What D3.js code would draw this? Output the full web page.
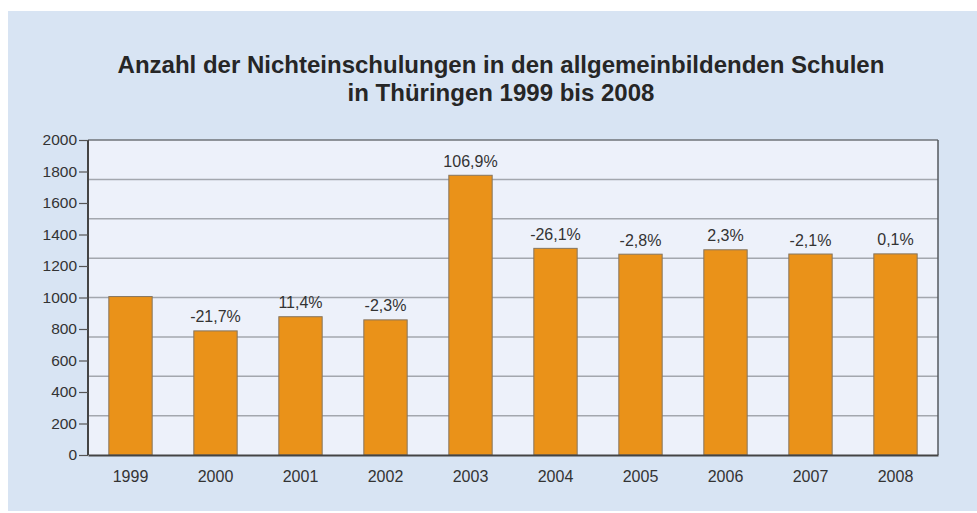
<!DOCTYPE html>
<html><head><meta charset="utf-8">
<script src="https://cdn.jsdelivr.net/npm/d3@7"></script>
<style>body{margin:0;background:#fff}svg{display:block}text{font-family:"Liberation Sans",Arial,sans-serif}</style>
</head><body><svg id="c" width="977" height="513"></svg>
<script>
const years = ["1999","2000","2001","2002","2003","2004","2005","2006","2007","2008"];
const values = [1006, 788, 878, 858, 1776, 1312, 1275, 1303, 1276, 1277];
const changes = ["", "-21,7%", "11,4%", "-2,3%", "106,9%", "-26,1%", "-2,8%", "2,3%", "-2,1%", "0,1%"];
const yTicks = [0,200,400,600,800,1000,1200,1400,1600,1800,2000];
const gridValues = [250,500,750,1000,1250,1500,1750];
const titleLines = ["Anzahl der Nichteinschulungen in den allgemeinbildenden Schulen", "in Thüringen 1999 bis 2008"];

const svg = d3.select("#c");
svg.append("rect").attr("x",8).attr("y",11).attr("width",969).attr("height",500).attr("fill","#d8e4f3");

const m = {l:88, r:938, t:140, b:455};
const x = d3.scaleBand().domain(years).range([m.l, m.r]).paddingInner(0.49).paddingOuter(0.245);
const y = d3.scaleLinear().domain([0,2000]).range([m.b, m.t]);

svg.append("rect").attr("x",m.l).attr("y",m.t).attr("width",m.r-m.l).attr("height",m.b-m.t).attr("fill","#edf1fa");

svg.append("g").selectAll("line").data(gridValues).join("line")
  .attr("x1",m.l).attr("x2",m.r).attr("y1",d=>y(d)).attr("y2",d=>y(d))
  .attr("stroke","#a3a7ae").attr("stroke-width",1.5);

// frame top/right
svg.append("line").attr("x1",m.l).attr("x2",m.r).attr("y1",m.t).attr("y2",m.t).attr("stroke","#6f7378").attr("stroke-width",1.5);
svg.append("line").attr("x1",m.r).attr("x2",m.r).attr("y1",m.t).attr("y2",m.b).attr("stroke","#55595e").attr("stroke-width",1.5);

svg.append("g").selectAll("rect").data(years).join("rect")
  .attr("x",d=>x(d)).attr("width",x.bandwidth())
  .attr("y",(d,i)=>y(values[i])).attr("height",(d,i)=>m.b-y(values[i]))
  .attr("fill","#ea9219").attr("stroke","#857560").attr("stroke-width",1);

svg.append("g").selectAll("text").data(years).join("text")
  .attr("x",d=>x(d)+x.bandwidth()/2).attr("y",(d,i)=>y(values[i])-8.5)
  .attr("text-anchor","middle").attr("font-size",16).attr("fill","#333")
  .text((d,i)=>changes[i]);

const yAxis = svg.append("g").attr("transform",`translate(${m.l},0)`)
  .call(d3.axisLeft(y).tickValues(yTicks).tickSize(9).tickPadding(2).tickFormat(d3.format("d")));
yAxis.select(".domain").attr("stroke","#444").attr("stroke-width",2).attr("d",`M0,${m.t}V${m.b}`);
yAxis.selectAll(".tick line").attr("stroke","#555").attr("stroke-width",1.2);
yAxis.selectAll("text").attr("font-size",15.5).attr("fill","#333").attr("font-family","Liberation Sans, Arial, sans-serif");

const xAxis = svg.append("g").attr("transform",`translate(0,${m.b})`)
  .call(d3.axisBottom(x).tickSize(0).tickPadding(16));
xAxis.select(".domain").attr("stroke","#444").attr("stroke-width",2);
xAxis.selectAll("text").attr("font-size",16).attr("fill","#333").attr("font-family","Liberation Sans, Arial, sans-serif");

svg.append("g").selectAll("text").data(titleLines).join("text")
  .attr("x",501).attr("y",(d,i)=>73+i*28).attr("text-anchor","middle")
  .attr("font-size",24).attr("font-weight","bold").attr("fill","#262626").text(d=>d);
</script></body></html>
